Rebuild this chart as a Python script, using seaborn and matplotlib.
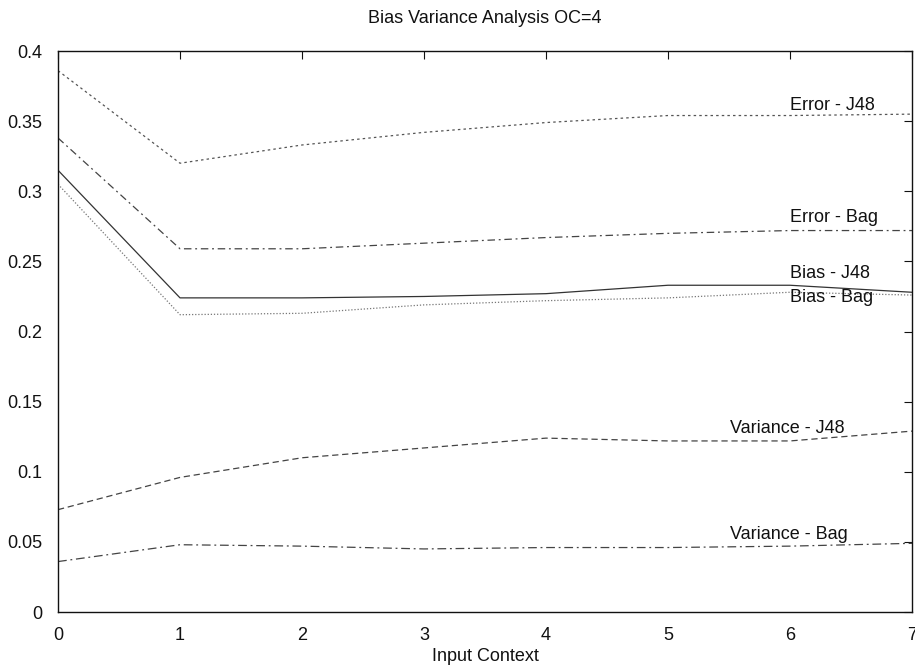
import matplotlib
matplotlib.use("Agg")
import matplotlib.pyplot as plt
import seaborn as sns
import pandas as pd

input_context = [0, 1, 2, 3, 4, 5, 6, 7]

error_j48 = [0.386, 0.320, 0.333, 0.342, 0.349, 0.354, 0.354, 0.355]
error_bag = [0.338, 0.259, 0.259, 0.263, 0.267, 0.270, 0.272, 0.272]
bias_j48 = [0.315, 0.224, 0.224, 0.225, 0.227, 0.233, 0.233, 0.228]
bias_bag = [0.305, 0.212, 0.213, 0.219, 0.222, 0.224, 0.228, 0.226]
variance_j48 = [0.073, 0.096, 0.110, 0.117, 0.124, 0.122, 0.122, 0.129]
variance_bag = [0.036, 0.048, 0.047, 0.045, 0.046, 0.046, 0.047, 0.049]

series_names = ["Error - J48", "Error - Bag", "Bias - J48", "Bias - Bag",
                "Variance - J48", "Variance - Bag"]
series_values = [error_j48, error_bag, bias_j48, bias_bag, variance_j48, variance_bag]

x_ticks = [0, 1, 2, 3, 4, 5, 6, 7]
y_ticks = [0, 0.05, 0.1, 0.15, 0.2, 0.25, 0.3, 0.35, 0.4]
y_tick_labels = ["0", "0.05", "0.1", "0.15", "0.2", "0.25", "0.3", "0.35", "0.4"]

sns.set_theme(style="white")
plt.rcParams["font.family"] = ["Liberation Sans", "DejaVu Sans"]

styles = {
    "Error - J48": dict(linestyle=(0, (2, 2.5)), color="#555555"),
    "Error - Bag": dict(linestyle=(0, (6, 3, 1.5, 3)), color="#444444"),
    "Bias - J48": dict(linestyle="-", color="#333333"),
    "Bias - Bag": dict(linestyle=(0, (1, 1.5)), color="#777777"),
    "Variance - J48": dict(linestyle=(0, (5, 3)), color="#444444"),
    "Variance - Bag": dict(linestyle=(0, (7, 3, 1.5, 3)), color="#444444"),
}

# label anchor (x, y) for each curve
label_pos = {
    "Error - J48": (6.0, 0.3615),
    "Error - Bag": (6.0, 0.281),
    "Bias - J48": (6.0, 0.2417),
    "Bias - Bag": (6.0, 0.224),
    "Variance - J48": (5.51, 0.131),
    "Variance - Bag": (5.51, 0.0556),
}

rows = []
for name, vals in zip(series_names, series_values):
    for x, v in zip(input_context, vals):
        rows.append({"Input Context": x, "value": v, "series": name})
df = pd.DataFrame(rows)

fig = plt.figure(figsize=(9.15, 6.66), dpi=100)
ax = fig.add_axes([0.0634, 0.081, 0.9333, 0.8424])

for name in series_names:
    sub = df[df["series"] == name]
    sns.lineplot(data=sub, x="Input Context", y="value", ax=ax,
                 linewidth=0.9, **styles[name])
    lx, ly = label_pos[name]
    ax.text(lx, ly, name, fontsize=13, ha="left", va="center", color="#111111")

ax.set_xlim(0, 7)
ax.set_ylim(0, 0.4)
ax.set_xticks(x_ticks)
ax.set_yticks(y_ticks)
ax.set_yticklabels(y_tick_labels)
ax.tick_params(direction="in", length=6, width=0.8, top=True, right=True,
               labelsize=13, colors="#111111")
ax.tick_params(axis="y", pad=11)
ax.tick_params(axis="x", pad=11)
ax.tick_params(axis="both", which="both", labeltop=False, labelright=False)
for s in ax.spines.values():
    s.set_color("#111111")
    s.set_linewidth(1.0)
    s.set_visible(True)

ax.set_xlabel("Input Context", fontsize=13, color="#111111", labelpad=3)
ax.set_ylabel("")
ax.set_title("Bias Variance Analysis OC=4", fontsize=13, color="#111111", pad=20)

fig.savefig("out.png", dpi=100)
